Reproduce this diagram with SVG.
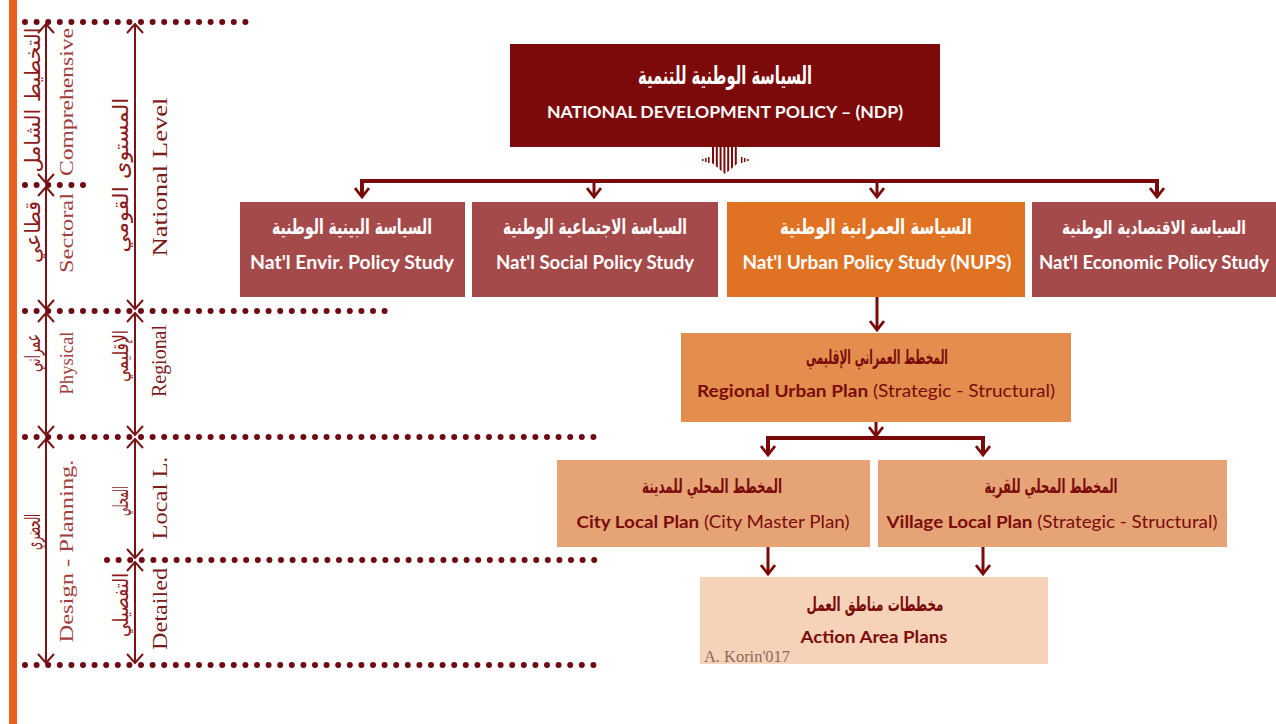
<svg xmlns="http://www.w3.org/2000/svg" width="1276" height="724" viewBox="0 0 1276 724">
<defs>
<style>
.ar{font-family:"DejaVu Sans","Noto Sans",sans-serif;font-weight:bold;}
.en{font-family:Lato,"Liberation Sans",sans-serif;}
.b{font-weight:bold;}
.w{fill:#ffffff;}
.m{fill:#7a0c0c;}
.sl{font-family:"Liberation Serif",serif;}
.dots{stroke:#6e0a14;stroke-width:6;stroke-linecap:round;stroke-dasharray:0 11.6;fill:none;}
.con{stroke:#7a0a0a;fill:none;}
.va{stroke:#7a1414;stroke-width:2;fill:none;}
</style>
<marker id="ah" viewBox="0 0 12 16" refX="10" refY="8" markerWidth="12" markerHeight="16" markerUnits="userSpaceOnUse" orient="auto-start-reverse">
<path d="M1,1 L10,8 L1,15" fill="none" stroke="#7a0a0a" stroke-width="2.8"/>
</marker>
<marker id="ahs" viewBox="0 0 12 18" refX="10" refY="9" markerWidth="12" markerHeight="18" markerUnits="userSpaceOnUse" orient="auto-start-reverse">
<path d="M1,1 L10,9 L1,17" fill="none" stroke="#7a1414" stroke-width="2"/>
</marker>
<clipPath id="sa"><polygon points="712,147 738,147 738,163 725,174 712,163"/></clipPath>
</defs>
<rect width="1276" height="724" fill="#ffffff"/>

<g id="side">
<rect x="9" y="0" width="8" height="724" fill="#e8621e"/>
<line class="dots" x1="25" y1="22" x2="256" y2="22"/>
<line class="dots" x1="25" y1="185" x2="92" y2="185"/>
<line class="dots" x1="25" y1="311" x2="391" y2="311"/>
<line class="dots" x1="25" y1="437" x2="600" y2="437"/>
<line class="dots" x1="107" y1="560" x2="600" y2="560"/>
<line class="dots" x1="25" y1="665" x2="600" y2="665"/>
<line class="va" x1="46" y1="24" x2="46" y2="183" marker-start="url(#ahs)" marker-end="url(#ahs)"/>
<line class="va" x1="46" y1="187" x2="46" y2="309" marker-start="url(#ahs)" marker-end="url(#ahs)"/>
<line class="va" x1="46" y1="313" x2="46" y2="435" marker-start="url(#ahs)" marker-end="url(#ahs)"/>
<line class="va" x1="46" y1="439" x2="46" y2="663" marker-start="url(#ahs)" marker-end="url(#ahs)"/>
<line class="va" x1="135" y1="24" x2="135" y2="309" marker-start="url(#ahs)" marker-end="url(#ahs)"/>
<line class="va" x1="135" y1="313" x2="135" y2="435" marker-start="url(#ahs)" marker-end="url(#ahs)"/>
<line class="va" x1="135" y1="439" x2="135" y2="558" marker-start="url(#ahs)" marker-end="url(#ahs)"/>
<line class="va" x1="135" y1="562" x2="135" y2="663" marker-start="url(#ahs)" marker-end="url(#ahs)"/>
<g class="sl" font-size="19" fill="#a03e3e" text-anchor="middle">
<text transform="translate(73,102) rotate(-90)" textLength="148" lengthAdjust="spacingAndGlyphs">Comprehensive</text>
<text transform="translate(73,233) rotate(-90)" textLength="80" lengthAdjust="spacingAndGlyphs">Sectoral</text>
<text transform="translate(73,363) rotate(-90)" textLength="63" lengthAdjust="spacingAndGlyphs">Physical</text>
<text transform="translate(73,551) rotate(-90)" textLength="183" lengthAdjust="spacingAndGlyphs">Design - Planning.</text>
</g>
<g class="sl" font-size="21" fill="#7a1c1c" text-anchor="middle">
<text transform="translate(167,177) rotate(-90)" textLength="159" lengthAdjust="spacingAndGlyphs">National Level</text>
<text transform="translate(166,361) rotate(-90)" textLength="72" lengthAdjust="spacingAndGlyphs">Regional</text>
<text transform="translate(167,498) rotate(-90)" textLength="83" lengthAdjust="spacingAndGlyphs">Local L.</text>
<text transform="translate(167,609) rotate(-90)" textLength="82" lengthAdjust="spacingAndGlyphs">Detailed</text>
</g>
<g font-family="DejaVu Sans, sans-serif" font-size="21" fill="#8b1a1a" text-anchor="middle">
<text transform="translate(40,100) rotate(-90)" textLength="145" lengthAdjust="spacingAndGlyphs">التخطيط الشامل</text>
<text transform="translate(40,232) rotate(-90)" textLength="62" lengthAdjust="spacingAndGlyphs">قطاعي</text>
<text transform="translate(40,353) rotate(-90)" textLength="38" lengthAdjust="spacingAndGlyphs">عمراني</text>
<text transform="translate(40,532) rotate(-90)" textLength="36" lengthAdjust="spacingAndGlyphs">الحضري</text>
<text transform="translate(128,175) rotate(-90)" textLength="155" lengthAdjust="spacingAndGlyphs">المستوى القومي</text>
<text transform="translate(128,356) rotate(-90)" textLength="52" lengthAdjust="spacingAndGlyphs">الإقليمي</text>
<text transform="translate(128,501) rotate(-90)" textLength="30" lengthAdjust="spacingAndGlyphs">المحلي</text>
<text transform="translate(128,605) rotate(-90)" textLength="64" lengthAdjust="spacingAndGlyphs">التفصيلي</text>
</g>
</g>

<g id="connectors">
<path class="con" stroke-width="4" d="M362,197 L362,181 L1157,181 L1157,197" marker-start="url(#ah)" marker-end="url(#ah)"/>
<path class="con" stroke-width="3" d="M594,181 L594,197" marker-end="url(#ah)"/>
<path class="con" stroke-width="3" d="M877,181 L877,197" marker-end="url(#ah)"/>
<path class="con" stroke-width="3" d="M877,297 L877,330" marker-end="url(#ah)"/>
<path class="con" stroke-width="3" d="M876,422 L876,436" marker-end="url(#ah)"/>
<path class="con" stroke-width="4" d="M768,455 L768,438 L983,438 L983,455" marker-start="url(#ah)" marker-end="url(#ah)"/>
<path class="con" stroke-width="3" d="M768,547 L768,574" marker-end="url(#ah)"/>
<path class="con" stroke-width="3" d="M983,547 L983,574" marker-end="url(#ah)"/>
<g id="striped-arrow">
<g clip-path="url(#sa)" stroke="#7a0a0a" stroke-width="2">
<line x1="713" y1="147" x2="713" y2="175"/>
<line x1="716.8" y1="147" x2="716.8" y2="175"/>
<line x1="720.6" y1="147" x2="720.6" y2="175"/>
<line x1="724.4" y1="147" x2="724.4" y2="175"/>
<line x1="728.2" y1="147" x2="728.2" y2="175"/>
<line x1="732" y1="147" x2="732" y2="175"/>
<line x1="735.8" y1="147" x2="735.8" y2="175"/>
</g>
<g fill="#7a0a0a">
<rect x="702" y="159" width="1.5" height="2"/><rect x="705" y="158" width="1.5" height="4"/><rect x="708" y="157" width="1.5" height="6"/>
<rect x="741" y="157" width="1.5" height="6"/><rect x="744" y="158" width="1.5" height="4"/><rect x="747" y="159" width="1.5" height="2"/>
</g>
</g>
</g>

<g id="ndp">
<rect x="510" y="44" width="430" height="103" fill="#7d0a0a"/>
<text class="ar w" x="725" y="84" font-size="25" text-anchor="middle" textLength="174" lengthAdjust="spacingAndGlyphs">السياسة الوطنية للتنمية</text>
<text class="en b w" x="725" y="118" font-size="17" text-anchor="middle" textLength="356" lengthAdjust="spacingAndGlyphs">NATIONAL DEVELOPMENT POLICY – (NDP)</text>
</g>

<g id="envir">
<rect x="240" y="202" width="225" height="95" fill="#a54a4b"/>
<text class="ar w" x="352" y="234" font-size="21" text-anchor="middle" textLength="160" lengthAdjust="spacingAndGlyphs">السياسة البينية الوطنية</text>
<text class="en b w" x="352" y="269" font-size="18" text-anchor="middle" textLength="204" lengthAdjust="spacingAndGlyphs">Nat'l Envir. Policy Study</text>
</g>
<g id="social">
<rect x="472" y="202" width="246" height="95" fill="#a54a4b"/>
<text class="ar w" x="595" y="234" font-size="21" text-anchor="middle" textLength="184" lengthAdjust="spacingAndGlyphs">السياسة الاجتماعية الوطنية</text>
<text class="en b w" x="595" y="269" font-size="18" text-anchor="middle" textLength="198" lengthAdjust="spacingAndGlyphs">Nat'l Social Policy Study</text>
</g>
<g id="urban">
<rect x="727" y="202" width="298" height="95" fill="#e07223"/>
<text class="ar w" x="876" y="234" font-size="21" text-anchor="middle" textLength="192" lengthAdjust="spacingAndGlyphs">السياسة العمرانية الوطنية</text>
<text class="en b w" x="877" y="269" font-size="18" text-anchor="middle" textLength="269" lengthAdjust="spacingAndGlyphs">Nat'l Urban Policy Study (NUPS)</text>
</g>
<g id="economic">
<rect x="1032" y="202" width="244" height="95" fill="#a54a4b"/>
<text class="ar w" x="1154" y="234" font-size="19" text-anchor="middle" textLength="184" lengthAdjust="spacingAndGlyphs">السياسة الاقتصادية الوطنية</text>
<text class="en b w" x="1154" y="269" font-size="18" text-anchor="middle" textLength="230" lengthAdjust="spacingAndGlyphs">Nat'l Economic Policy Study</text>
</g>

<g id="regional">
<rect x="681" y="333" width="390" height="89" fill="#e38e4e"/>
<text class="ar m" x="877" y="364" font-size="20" text-anchor="middle" textLength="142" lengthAdjust="spacingAndGlyphs">المخطط العمراني الإقليمي</text>
<text class="en m" x="876" y="397" font-size="17" text-anchor="middle" textLength="358" lengthAdjust="spacingAndGlyphs"><tspan class="b">Regional Urban Plan</tspan> (Strategic - Structural)</text>
</g>
<g id="city">
<rect x="557" y="460" width="313" height="87" fill="#e6a375"/>
<text class="ar m" x="712" y="493" font-size="20" text-anchor="middle" textLength="140" lengthAdjust="spacingAndGlyphs">المخطط المحلي للمدينة</text>
<text class="en m" x="713" y="528" font-size="17" text-anchor="middle" textLength="273" lengthAdjust="spacingAndGlyphs"><tspan class="b">City Local Plan</tspan> (City Master Plan)</text>
</g>
<g id="village">
<rect x="878" y="460" width="349" height="87" fill="#e6a375"/>
<text class="ar m" x="1051" y="493" font-size="20" text-anchor="middle" textLength="133" lengthAdjust="spacingAndGlyphs">المخطط المحلي للقرية</text>
<text class="en m" x="1052" y="528" font-size="17" text-anchor="middle" textLength="331" lengthAdjust="spacingAndGlyphs"><tspan class="b">Village Local Plan</tspan> (Strategic - Structural)</text>
</g>
<g id="action">
<rect x="700" y="577" width="348" height="87" fill="#f6d2b8"/>
<text class="ar m" x="875" y="611" font-size="20" text-anchor="middle" textLength="137" lengthAdjust="spacingAndGlyphs">مخططات مناطق العمل</text>
<text class="en b m" x="874" y="643" font-size="17" text-anchor="middle" textLength="147" lengthAdjust="spacingAndGlyphs">Action Area Plans</text>
<text class="sl" x="704" y="662" font-size="16" fill="#8c6a5c" textLength="86" lengthAdjust="spacingAndGlyphs">A. Korin'017</text>
</g>
</svg>
